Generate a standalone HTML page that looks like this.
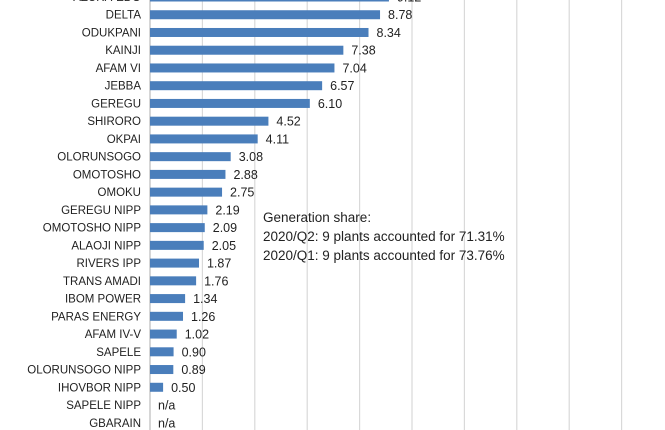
<!DOCTYPE html>
<html><head><meta charset="utf-8"><style>
html,body{margin:0;padding:0;background:#fff;width:665px;height:430px;overflow:hidden}
svg{display:block;font-family:"Liberation Sans",sans-serif}
</style></head><body>
<svg id="chart" width="665" height="430">
<g id="grid"></g><g id="bars"></g>
<g font-size="13.5" fill="#222">
<text x="263" y="222">Generation share:</text>
<text x="263" y="241">2020/Q2: 9 plants accounted for 71.31%</text>
<text x="263" y="260">2020/Q1: 9 plants accounted for 73.76%</text>
</g>
</svg>
<script>
const categories=["AZURA-EDO","DELTA","ODUKPANI","KAINJI","AFAM VI","JEBBA","GEREGU","SHIRORO","OKPAI","OLORUNSOGO","OMOTOSHO","OMOKU","GEREGU NIPP","OMOTOSHO NIPP","ALAOJI NIPP","RIVERS IPP","TRANS AMADI","IBOM POWER","PARAS ENERGY","AFAM IV-V","SAPELE","OLORUNSOGO NIPP","IHOVBOR NIPP","SAPELE NIPP","GBARAIN"];
const values=[9.12,8.78,8.34,7.38,7.04,6.57,6.10,4.52,4.11,3.08,2.88,2.75,2.19,2.09,2.05,1.87,1.76,1.34,1.26,1.02,0.90,0.89,0.50,null,null];
const ticks=[0,2,4,6,8,10,12,14,16,18];
const NS="http://www.w3.org/2000/svg";
const x0=150,unit=26.2,y0=-3,pitch=17.74;
const xs=v=>x0+v*unit, ys=i=>y0+i*pitch;
const grid=document.getElementById('grid'),bars=document.getElementById('bars');
function mk(t,a,p){const e=document.createElementNS(NS,t);for(const k in a)e.setAttribute(k,a[k]);p.appendChild(e);return e;}
ticks.forEach(t=>{
 const l=mk('line',{x1:xs(t),x2:xs(t),y1:0,y2:430,stroke:t===0?'#bbb':'#d9d9d9','stroke-width':1.2},grid);
 
 
});
categories.forEach((c,i)=>{
 const y=ys(i);
 const lab=mk('text',{x:141,y:y+4,'text-anchor':'end','font-size':11.5,fill:'#222'},bars);
 lab.textContent=c;
 
 
 const v=values[i];
 if(v!==null){
  const r=mk('rect',{x:xs(0),y:y-4.5,width:xs(v)-xs(0),height:9,fill:'#4a7ebb'},bars);
  
  
 }
 const vl=mk('text',{x:(v!==null?xs(v):xs(0))+8,y:y+4.5,'font-size':12.5,fill:'#222'},bars);
 vl.textContent=v!==null?v.toFixed(2):'n/a';
 
 
});
</script>
</body></html>
